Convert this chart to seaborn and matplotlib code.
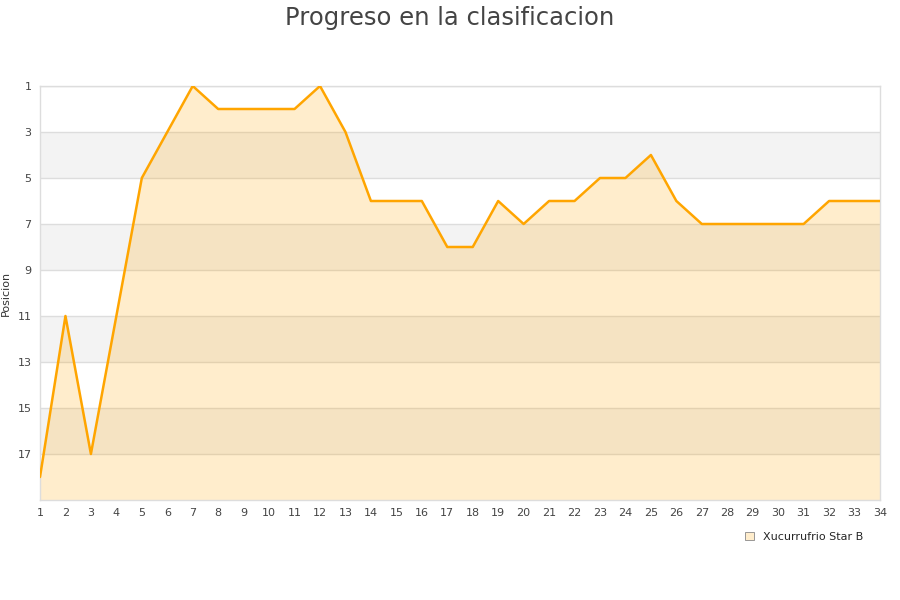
import matplotlib
matplotlib.use("Agg")
import matplotlib.pyplot as plt
import seaborn as sns
import pandas as pd

jornadas = list(range(1, 35))
posicion = [18, 11, 17, 11, 5, 3, 1, 2, 2, 2, 2, 1, 3, 6, 6, 6, 8, 8, 6, 7,
            6, 6, 5, 5, 4, 6, 7, 7, 7, 7, 7, 6, 6, 6]
equipo = "Xucurrufrio Star B"
title = "Progreso en la clasificacion"
ylabel = "Posicion"
yticks = [1, 3, 5, 7, 9, 11, 13, 15, 17]

df = pd.DataFrame({"Jornada": jornadas, "Posicion": posicion})

sns.set_theme(style="white")
plt.rcParams['font.family'] = ['DejaVu Sans']

fig = plt.figure(figsize=(9, 6), dpi=100)
ax = fig.add_axes([40/900, 1 - 500/600, 840/900, 414/600])

line_color = "#ffa500"
for y0 in [3, 7, 11, 15]:
    ax.axhspan(y0, y0 + 2, color="#f3f3f3", zorder=0, lw=0)
for y in yticks:
    ax.axhline(y, color="#dddddd", lw=1, zorder=1)

ax.fill_between(df["Jornada"], df["Posicion"], 19, color=line_color, alpha=0.2, lw=0, zorder=2)
sns.lineplot(data=df, x="Jornada", y="Posicion", ax=ax, color=line_color, lw=1.8,
             zorder=3, legend=False)

ax.set_xlim(1, 34)
ax.set_ylim(19, 1)
ax.set_xticks(jornadas)
ax.set_yticks(yticks)
ax.tick_params(axis="both", labelsize=8, colors="#444444", length=0, pad=6)
ax.set_xlabel("")
ax.set_ylabel(ylabel, fontsize=8, color="#333333")
ax.yaxis.set_label_coords(-29/840, 0.5)
for s in ax.spines.values():
    s.set_color("#dddddd")
    s.set_linewidth(1)

fig.suptitle(title, fontsize=17.5, color="#444444", y=0.99)

from matplotlib.patches import Patch
h = Patch(facecolor="#ffedcc", edgecolor="#888888", lw=0.6)
fig.legend([h], [equipo], loc="center left", bbox_to_anchor=(735/900, 1 - 537/600),
           frameon=False, fontsize=8, handlelength=0.8, handleheight=0.8, handletextpad=0.8)

fig.savefig("out.png", dpi=100)
